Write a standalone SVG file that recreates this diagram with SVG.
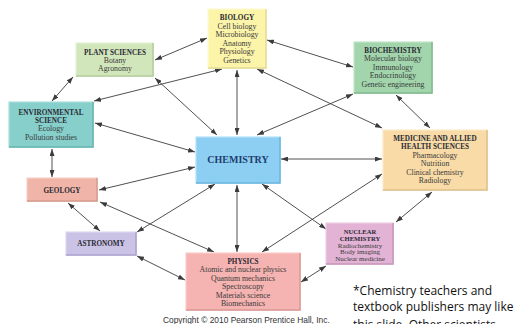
<svg xmlns="http://www.w3.org/2000/svg" width="514" height="324" viewBox="0 0 514 324">
<defs>
<marker id="ah" viewBox="0 0 7 5" markerWidth="7" markerHeight="5" refX="7" refY="2.5" orient="auto-start-reverse" markerUnits="userSpaceOnUse">
<path d="M0,0 L7,2.5 L0,5 z" fill="#3c3c3c"/>
</marker>
</defs>
<style>
.bx{stroke-width:1.2}
.sh{fill:none;stroke-width:1.5}
.h{font-family:"Liberation Serif",serif;font-weight:bold;font-size:7.2px;fill:#2a2a33;text-anchor:middle}
.t{font-family:"Liberation Serif",serif;font-size:7.8px;fill:#3a3a3a;text-anchor:middle}
.hs{font-family:"Liberation Serif",serif;font-weight:bold;font-size:6.6px;fill:#2a2a33;text-anchor:middle}
.ts{font-family:"Liberation Serif",serif;font-size:7px;fill:#3a3a3a;text-anchor:middle}
.c{font-family:"Liberation Serif",serif;font-weight:bold;font-size:10px;fill:#1f3d6c;text-anchor:middle}
.cl line{stroke:#3c3c3c;stroke-width:0.9;marker-start:url(#ah);marker-end:url(#ah)}
.cp{font-family:"Liberation Sans",Arial,sans-serif;font-size:8.4px;fill:#333}
.nt{font-family:"Open Sans","Liberation Sans",sans-serif;font-size:12px;fill:#111}
</style>
<rect width="514" height="324" fill="#ffffff"/>

<g id="connectors" class="cl">
<line x1="155" y1="60" x2="207" y2="38"/>
<line x1="267" y1="40" x2="353" y2="67"/>
<line x1="73" y1="77" x2="52" y2="101"/>
<line x1="222" y1="69" x2="94" y2="101"/>
<line x1="155" y1="78" x2="217" y2="135"/>
<line x1="237" y1="70" x2="237" y2="135"/>
<line x1="257" y1="69" x2="382" y2="128"/>
<line x1="353" y1="94" x2="257" y2="135"/>
<line x1="396" y1="95" x2="430" y2="128"/>
<line x1="95" y1="123" x2="195" y2="152"/>
<line x1="52" y1="149" x2="52" y2="177"/>
<line x1="99" y1="190" x2="195" y2="167"/>
<line x1="281" y1="159" x2="382" y2="159"/>
<line x1="68" y1="203" x2="100" y2="231"/>
<line x1="100" y1="202" x2="214" y2="252"/>
<line x1="137" y1="232" x2="215" y2="184"/>
<line x1="237" y1="185" x2="237" y2="252"/>
<line x1="137" y1="256" x2="185" y2="280"/>
<line x1="262" y1="184" x2="326" y2="229"/>
<line x1="382" y1="174" x2="262" y2="252"/>
<line x1="432" y1="192" x2="396" y2="222"/>
<line x1="301" y1="282" x2="326" y2="266"/>
</g>

<g id="biology">
<rect class="bx" x="208" y="9" width="58" height="59" fill="#fbf4a9" stroke="#fffbd2"/>
<path class="sh" d="M266,9 V68 H208" stroke="#e2d98f"/>
<text class="h" x="237" y="19.5">BIOLOGY</text>
<text class="t" x="237" y="28.5">Cell biology</text>
<text class="t" x="237" y="37">Microbiology</text>
<text class="t" x="237" y="45.5">Anatomy</text>
<text class="t" x="237" y="54">Physiology</text>
<text class="t" x="237" y="62.5">Genetics</text>
</g>

<g id="plant-sciences">
<rect class="bx" x="76" y="43" width="77" height="33" fill="#d2e6bb" stroke="#e4f1d4"/>
<path class="sh" d="M153,43 V76 H76" stroke="#b3ca9a"/>
<text class="h" x="115" y="54.5">PLANT SCIENCES</text>
<text class="t" x="115" y="62.5">Botany</text>
<text class="t" x="115" y="70.5">Agronomy</text>
</g>

<g id="biochemistry">
<rect class="bx" x="354" y="42" width="78" height="51" fill="#a2d5ac" stroke="#c2e5c8"/>
<path class="sh" d="M432,42 V93 H354" stroke="#7db689"/>
<text class="h" x="393" y="52.5">BIOCHEMISTRY</text>
<text class="t" x="393" y="61">Molecular biology</text>
<text class="t" x="393" y="69.5">Immunology</text>
<text class="t" x="393" y="78">Endocrinology</text>
<text class="t" x="393" y="86.5">Genetic engineering</text>
</g>

<g id="environmental-science">
<rect class="bx" x="9" y="102" width="84" height="45" fill="#86cfcb" stroke="#aadfdc"/>
<path class="sh" d="M93,102 V147 H9" stroke="#62b1ac"/>
<text class="h" x="51" y="114.5">ENVIRONMENTAL</text>
<text class="h" x="51" y="122.5">SCIENCE</text>
<text class="t" x="51" y="131">Ecology</text>
<text class="t" x="51" y="139.5">Pollution studies</text>
</g>

<g id="chemistry">
<rect class="bx" x="196" y="137" width="84" height="46" fill="#8ccff3" stroke="#b4e1fa"/>
<path class="sh" d="M280,137 V183 H196" stroke="#66b3de"/>
<text class="c" x="238" y="162.5">CHEMISTRY</text>
</g>

<g id="medicine">
<rect class="bx" x="383" y="130" width="104" height="60" fill="#f8dba7" stroke="#fce9c8"/>
<path class="sh" d="M487,130 V190 H383" stroke="#dcbd86"/>
<text class="h" x="435" y="140.5">MEDICINE AND ALLIED</text>
<text class="h" x="435" y="148.5">HEALTH SCIENCES</text>
<text class="t" x="435" y="157.5">Pharmacology</text>
<text class="t" x="435" y="166">Nutrition</text>
<text class="t" x="435" y="174.5">Clinical chemistry</text>
<text class="t" x="435" y="183">Radiology</text>
</g>

<g id="geology">
<rect class="bx" x="27" y="178" width="70" height="23" fill="#f0b5a8" stroke="#f7d0c7"/>
<path class="sh" d="M97,178 V201 H27" stroke="#d5968a"/>
<text class="h" x="62" y="192.5">GEOLOGY</text>
</g>

<g id="astronomy">
<rect class="bx" x="66" y="232" width="70" height="23" fill="#cbc3e6" stroke="#ddd8f0"/>
<path class="sh" d="M136,232 V255 H66" stroke="#a9a0cb"/>
<text class="h" x="101" y="246">ASTRONOMY</text>
</g>

<g id="physics">
<rect class="bx" x="186" y="253" width="114" height="57" fill="#f5b3b1" stroke="#f9cecc"/>
<path class="sh" d="M300,253 V310 H186" stroke="#d99593"/>
<text class="h" x="243" y="264">PHYSICS</text>
<text class="t" x="243" y="272">Atomic and nuclear physics</text>
<text class="t" x="243" y="280.5">Quantum mechanics</text>
<text class="t" x="243" y="289">Spectroscopy</text>
<text class="t" x="243" y="297.5">Materials science</text>
<text class="t" x="243" y="306">Biomechanics</text>
</g>

<g id="nuclear-chemistry">
<rect class="bx" x="326" y="223" width="67" height="41" fill="#e2b3d5" stroke="#edcde5"/>
<path class="sh" d="M393,223 V264 H326" stroke="#c393b7"/>
<text class="hs" x="360" y="234">NUCLEAR</text>
<text class="hs" x="360" y="240.5">CHEMISTRY</text>
<text class="ts" x="360" y="247.5">Radiochemistry</text>
<text class="ts" x="360" y="254.3">Body imaging</text>
<text class="ts" x="360" y="261">Nuclear medicine</text>
</g>

<text class="cp" x="163" y="323">Copyright © 2010 Pearson Prentice Hall, Inc.</text>
<text class="nt" x="353" y="295">*Chemistry teachers and</text>
<text class="nt" x="353" y="311">textbook publishers may like</text>
<text class="nt" x="353" y="329">this slide. Other scientists</text>
</svg>
